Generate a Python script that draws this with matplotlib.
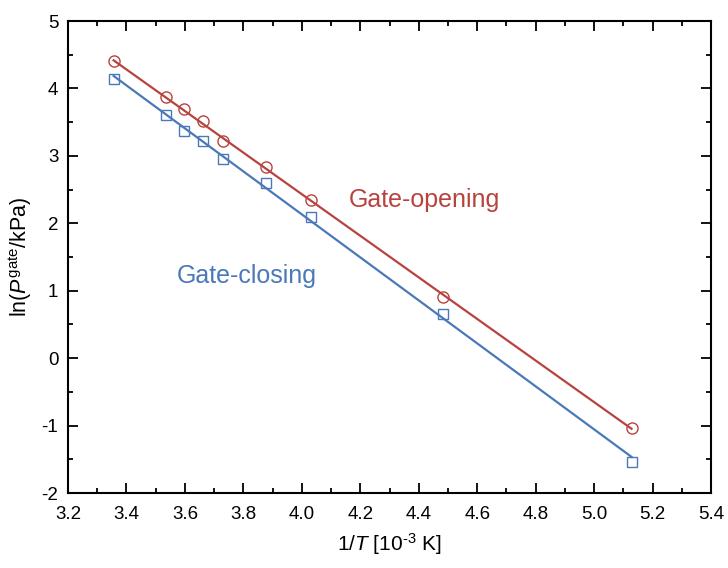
import numpy as np
import matplotlib.pyplot as plt
from matplotlib.ticker import MultipleLocator

plt.rcParams['font.family'] = ['Liberation Sans', 'DejaVu Sans']
plt.rcParams['mathtext.fontset'] = 'custom'
plt.rcParams['mathtext.rm'] = 'Liberation Sans'
plt.rcParams['mathtext.it'] = 'Liberation Sans:italic'
plt.rcParams['axes.unicode_minus'] = False

# 1/T values (10^-3 K^-1)
inv_t = [3.356, 3.534, 3.597, 3.663, 3.731, 3.876, 4.032, 4.484, 5.128]
# ln(P_gate / kPa)
ln_open = [4.40, 3.87, 3.69, 3.51, 3.22, 2.83, 2.34, 0.90, -1.03]
ln_close = [4.14, 3.61, 3.37, 3.22, 2.95, 2.60, 2.09, 0.66, -1.54]

red = '#b8433e'
blue = '#4a78b9'

fig = plt.figure(figsize=(7.28, 5.68), dpi=100)
ax = fig.add_axes([0.0934, 0.132, 0.8833, 0.831])

# linear fits
x = np.array(inv_t)
for y, c, m in [(ln_open, red, 'o'), (ln_close, blue, 's')]:
    k, b = np.polyfit(x, y, 1)
    xs = np.array([x.min(), x.max()])
    ax.plot(xs, k * xs + b, color=c, lw=1.6, zorder=2)
    ax.plot(x, y, m, mfc='none', mec=c, ms=8 if m == 'o' else 7.5, mew=1.0, zorder=3)

ax.text(4.42, 2.34, 'Gate-opening', color=red, fontsize=18, ha='center', va='center')
ax.text(3.81, 1.22, 'Gate-closing', color=blue, fontsize=18, ha='center', va='center')

ax.set_xlim(3.2, 5.4)
ax.set_ylim(-2, 5)
ax.xaxis.set_major_locator(MultipleLocator(0.2))
ax.xaxis.set_minor_locator(MultipleLocator(0.1))
ax.yaxis.set_major_locator(MultipleLocator(1))
ax.yaxis.set_minor_locator(MultipleLocator(0.5))
ax.xaxis.set_major_formatter(plt.FormatStrFormatter('%.1f'))

ax.tick_params(which='both', direction='in', top=True, right=True, labelsize=13.5, width=1.3)
ax.tick_params(which='major', length=7.5)
ax.tick_params(which='minor', length=3.5)
ax.tick_params(axis='x', which='both', pad=9)
ax.tick_params(axis='y', which='both', pad=7)
for s in ax.spines.values():
    s.set_linewidth(1.5)

ax.set_xlabel('1/$\\mathit{T}$ [10$^{\\mathrm{\u2010}3}$ K]', fontsize=15, labelpad=6)
ax.set_ylabel(r'ln($\mathit{P}^{\mathrm{gate}}$/kPa)', fontsize=15.5, labelpad=5)

fig.savefig('out.png', dpi=100)
